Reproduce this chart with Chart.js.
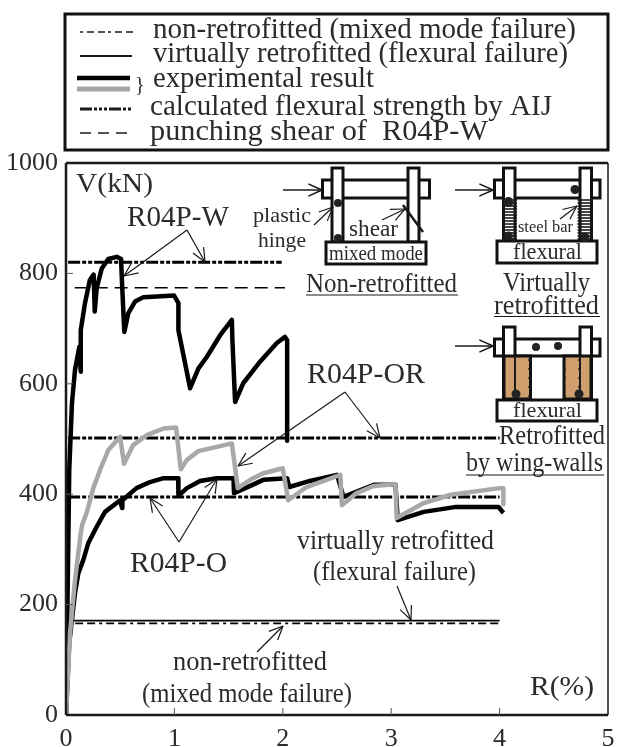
<!DOCTYPE html>
<html>
<head>
<meta charset="utf-8">
<style>
  html, body { margin: 0; padding: 0; background: #fff; }
  canvas { display: block; }
</style>
<script src="https://cdn.jsdelivr.net/npm/chart.js@4/dist/chart.umd.min.js"></script>
</head>
<body>
<canvas id="chart" width="621" height="747"></canvas>
<script>
// R in %, V in kN
var yTicks = [0, 200, 400, 600, 800, 1000];
var xTicks = [0, 1, 2, 3, 4, 5];

var wR = [0, 0.03, 0.055, 0.083, 0.123, 0.136, 0.136, 0.136, 0.175, 0.22, 0.255, 0.265, 0.283, 0.33, 0.39, 0.468, 0.508, 0.517, 0.538, 0.575, 0.637, 0.714, 0.997, 1.037, 1.037, 1.145, 1.222, 1.3, 1.422, 1.53, 1.535, 1.56, 1.635, 1.79, 1.945, 2.02, 2.04, 2.04];
var wV = [0, 444, 565, 625, 667, 622, 667, 697, 746, 788, 798, 731, 773, 809, 826, 830, 826, 782, 694, 728, 749, 757, 760, 746, 697, 592, 628, 649, 688, 716, 680, 567, 601, 640, 674, 685, 679, 497];

var orR = [0, 0.037, 0.083, 0.136, 0.15, 0.19, 0.252, 0.314, 0.39, 0.5, 0.535, 0.62, 0.745, 0.9, 1.015, 1.059, 1.115, 1.22, 1.53, 1.585, 1.7, 1.82, 2.0, 2.05, 2.22, 2.53, 2.545, 2.68, 2.84, 3.04, 3.05, 3.3, 3.55, 4.0, 4.035, 4.035];
var orV = [0, 148, 244, 329, 345, 366, 411, 444, 480, 504, 455, 489, 507, 519, 521, 445, 462, 478, 492, 411, 426, 438, 447, 389, 413, 435, 380, 402, 415, 418, 357, 384, 399, 411, 411, 382];

var oR = [0, 0.03, 0.083, 0.114, 0.16, 0.205, 0.283, 0.36, 0.5, 0.517, 0.52, 0.65, 0.775, 0.9, 1.035, 1.037, 1.115, 1.237, 1.39, 1.545, 1.55, 1.7, 1.82, 2.04, 2.06, 2.25, 2.5, 2.56, 2.84, 3.04, 3.06, 3.3, 3.6, 3.99, 4.035];
var oV = [0, 130, 221, 257, 281, 311, 341, 368, 389, 375, 389, 411, 422, 429, 429, 397, 411, 424, 429, 429, 402, 415, 426, 429, 413, 424, 435, 395, 417, 417, 353, 368, 377, 377, 366];

var nonWV = 820, punchV = 774, flexOrV = 502, flexOV = 395, virtualV = 171, nonV = 166;
var refStart = 0.02, refEndW = 1.99, punchStart = 0.08, punchEnd = 2.02, refEnd = 4.0;

function pts(xs, ys) {
  return xs.map(function(x, i) { return { x: x, y: ys[i] }; });
}
function curve(xs, ys, color, width) {
  return { data: pts(xs, ys), borderColor: color, borderWidth: width, showLine: true, pointRadius: 0, fill: false, borderJoinStyle: 'round' };
}
function ref(x0, x1, v, width, dash) {
  return { data: pts([x0, x1], [v, v]), borderColor: '#000', borderWidth: width, borderDash: dash, showLine: true, pointRadius: 0 };
}

var SERIF = '"Liberation Serif"';
var INK = '#2b2b2b';

function txt(c, s, x, y, size, w) {
  c.save();
  c.font = size + 'px ' + SERIF;
  c.fillStyle = INK;
  c.textAlign = 'left';
  c.textBaseline = 'alphabetic';
  c.translate(x, y);
  if (w) c.scale(w / c.measureText(s).width, 1);
  c.fillText(s, 0, 0);
  c.restore();
}
function seg(c, x0, y0, x1, y1, lw, dash, col) {
  c.save();
  c.beginPath();
  c.moveTo(x0, y0);
  c.lineTo(x1, y1);
  c.lineWidth = lw;
  c.strokeStyle = col || '#1a1a1a';
  c.setLineDash(dash || []);
  c.stroke();
  c.restore();
}
function arrow(c, x0, y0, x1, y1, lw) {
  var a = Math.atan2(y1 - y0, x1 - x0), h = 15;
  seg(c, x0, y0, x1, y1, lw || 1.2);
  seg(c, x1, y1, x1 - h * Math.cos(a - 0.42), y1 - h * Math.sin(a - 0.42), lw || 1.2);
  seg(c, x1, y1, x1 - h * Math.cos(a + 0.42), y1 - h * Math.sin(a + 0.42), lw || 1.2);
}
function box(c, x0, y0, x1, y1, lw, fill) {
  c.save();
  c.fillStyle = fill || '#fff';
  c.fillRect(x0, y0, x1 - x0, y1 - y0);
  c.lineWidth = lw;
  c.strokeStyle = '#111';
  c.strokeRect(x0, y0, x1 - x0, y1 - y0);
  c.restore();
}
function dot(c, x, y, r) {
  c.beginPath();
  c.arc(x, y, r, 0, Math.PI * 2);
  c.fillStyle = '#222';
  c.fill();
}
function frame(c, top, beamTop, beamBot, baseTop, baseBot) {
  box(c, 494.5, beamTop, 600, beamBot, 3);
  box(c, 503.5, top, 515, baseTop, 3);
  box(c, 580, top, 591.5, baseTop, 3);
  box(c, 497, baseTop, 597, baseBot, 3);
}

var legendAndNotes = {
  id: 'legendAndNotes',
  afterDatasetsDraw: function(chart) {
    var c = chart.ctx, a = chart.chartArea;

    // plot frame and inward ticks
    seg(c, a.left, a.top, a.left, a.bottom, 2.5);
    seg(c, a.left, a.bottom, a.right, a.bottom, 2.5);
    seg(c, a.right, a.top, a.right, a.bottom, 1.5);
    seg(c, a.left, a.top, a.right, a.top, 2.5);
    xTicks.slice(1, 5).forEach(function(t) {
      var x = chart.scales.x.getPixelForValue(t);
      seg(c, x, a.bottom, x, a.bottom - 7, 1, null, '#555');
    });
    yTicks.slice(1, 5).forEach(function(t) {
      var y = chart.scales.y.getPixelForValue(t);
      seg(c, a.left, y, a.left + 7, y, 1, null, '#555');
    });

    // legend box
    box(c, 65, 14, 608, 150, 3);
    txt(c, 'non-retrofitted (mixed mode failure)', 153, 38, 29, 423);
    seg(c, 80, 32, 135, 32, 1.5, [3, 4, 7, 4, 7, 3]);
    txt(c, 'virtually retrofitted (flexural failure)', 153, 62, 29, 415);
    seg(c, 80, 56, 132, 56, 2);
    txt(c, 'experimental result', 153, 87, 29, 221);
    seg(c, 77, 78, 130, 78, 4.5, null, '#000');
    seg(c, 77, 89, 130, 89, 5, null, '#a6a6a6');
    txt(c, '}', 135, 91, 20);
    txt(c, 'calculated flexural strength by AIJ', 150, 115, 29, 402);
    seg(c, 80, 109, 132, 109, 3, [12, 2, 3, 2, 3, 2, 3, 2]);
    txt(c, 'punching shear of  R04P-W', 150, 140, 29, 338);
    seg(c, 80, 133, 132, 133, 1.6, [11, 7]);

    // labels inside the plot
    txt(c, 'V(kN)', 76, 192, 28, 77);
    txt(c, 'R(%)', 530, 695, 28, 64);
    txt(c, 'R04P-W', 127, 226, 29, 102);
    txt(c, 'R04P-OR', 307, 383, 29, 118);
    txt(c, 'R04P-O', 130, 572, 29, 97);
    txt(c, 'virtually retrofitted', 297, 549, 28, 197);
    txt(c, '(flexural failure)', 313, 580, 28, 163);
    txt(c, 'non-retrofitted', 173, 670, 27, 154);
    txt(c, '(mixed mode failure)', 142, 702, 27, 210);

    // annotation arrows
    arrow(c, 187, 230, 124, 276);
    arrow(c, 187, 230, 205, 262);
    arrow(c, 345, 392, 380, 438);
    arrow(c, 345, 392, 238, 466);
    arrow(c, 179, 542, 150, 498);
    arrow(c, 179, 542, 217, 479);
    arrow(c, 397, 586, 411, 620);
    arrow(c, 257, 652, 283, 626);

    // non-retrofitted frame
    box(c, 322.5, 180, 429.5, 198, 3);
    box(c, 332, 168, 343, 242, 3);
    box(c, 408, 168, 419, 242, 3);
    box(c, 326, 242, 426, 264, 3);
    dot(c, 338, 203, 4);
    dot(c, 338, 238, 4);
    seg(c, 403, 205, 423, 232, 2.5);
    arrow(c, 283, 190, 322, 190, 1.6);
    arrow(c, 314, 225, 333, 207);
    arrow(c, 382, 220, 405, 209);
    txt(c, 'plastic', 253, 222, 22, 58);
    txt(c, 'hinge', 258, 247, 22, 48);
    txt(c, 'shear', 349, 236, 23, 49);
    txt(c, 'mixed mode', 329, 260, 22, 94);
    txt(c, 'Non-retrofitted', 306, 292, 27, 151);
    seg(c, 306, 295, 458, 295, 1.2);

    // virtually retrofitted frame
    frame(c, 168, 180, 198, 241, 263);
    for (var y = 200; y < 240; y += 3) {
      seg(c, 502, y, 517, y, 1.6);
      seg(c, 577.5, y, 593, y, 1.6);
    }
    dot(c, 508.5, 202, 5);
    dot(c, 508.5, 236, 4.5);
    dot(c, 575, 189.5, 4.5);
    dot(c, 585, 237, 4.5);
    arrow(c, 455, 190, 493, 190, 1.6);
    arrow(c, 560, 219, 577, 206);
    txt(c, 'steel bar', 518, 232, 17, 55);
    txt(c, 'flexural', 513, 259, 23, 69);
    txt(c, 'Virtually', 503, 291, 27, 87);
    txt(c, 'retrofitted', 494, 314, 27, 105);
    seg(c, 494, 316.5, 600, 316.5, 1.2);

    // wing-wall frame
    frame(c, 327, 339, 356, 400, 421);
    box(c, 504, 356, 530.5, 399, 3, '#cf9f6e');
    box(c, 564, 356, 591, 399, 3, '#cf9f6e');
    seg(c, 515, 356, 515, 398, 2);
    seg(c, 580, 356, 580, 398, 2);
    for (var w = 360; w < 398; w += 9) {
      dot(c, 515, w, 1);
      dot(c, 529, w, 1);
      dot(c, 565, w, 1);
      dot(c, 579, w, 1);
    }
    dot(c, 536, 347, 4);
    dot(c, 558, 346, 4);
    dot(c, 516, 394, 4.5);
    dot(c, 579, 394, 4.5);
    arrow(c, 455, 346, 493, 346, 1.6);
    txt(c, 'flexural', 513, 417, 21, 69);
    txt(c, 'Retrofitted', 499, 444, 27, 106);
    txt(c, 'by wing-walls', 466, 471, 27, 137);
    seg(c, 466, 475, 604, 475, 1.2);
  }
};

new Chart(document.getElementById('chart'), {
  type: 'scatter',
  data: {
    // first dataset ends up on top
    datasets: [
      curve(orR, orV, '#a8a8a8', 4.5),
      curve(wR, wV, '#000', 4.5),
      curve(oR, oV, '#000', 4.5),
      ref(refStart, refEndW, nonWV, 3, [12, 2, 4, 2, 4, 2]),
      ref(punchStart, punchEnd, punchV, 1.6, [13, 7]),
      ref(refStart, refEnd, flexOrV, 3, [12, 2, 4, 2, 4, 2]),
      ref(refStart, refEnd, flexOV, 3, [12, 2, 4, 2, 4, 2]),
      ref(refStart, refEnd, virtualV, 1.8, []),
      ref(refStart, refEnd, nonV, 1.6, [3, 4, 8, 4, 8, 4])
    ]
  },
  plugins: [legendAndNotes],
  options: {
    responsive: false,
    animation: false,
    layout: { padding: { top: 163, right: 13, left: 0, bottom: 0 } },
    plugins: { legend: { display: false }, tooltip: { enabled: false } },
    scales: {
      x: {
        type: 'linear',
        min: 0,
        max: 5,
        grid: { display: false },
        border: { display: false },
        afterBuildTicks: function(s) { s.ticks = xTicks.map(function(v) { return { value: v }; }); },
        ticks: { font: { family: 'Liberation Serif', size: 26 }, color: INK, padding: 1, maxRotation: 0, callback: function(v) { return String(v); } },
        afterFit: function(s) { s.height = 32; }
      },
      y: {
        type: 'linear',
        min: 0,
        max: 1000,
        grid: { display: false },
        border: { display: false },
        afterBuildTicks: function(s) { s.ticks = yTicks.map(function(v) { return { value: v }; }); },
        ticks: { font: { family: 'Liberation Serif', size: 26 }, color: INK, padding: 0, callback: function(v) { return String(v); } },
        afterFit: function(s) { s.width = 66; }
      }
    }
  }
});
</script>
</body>
</html>
